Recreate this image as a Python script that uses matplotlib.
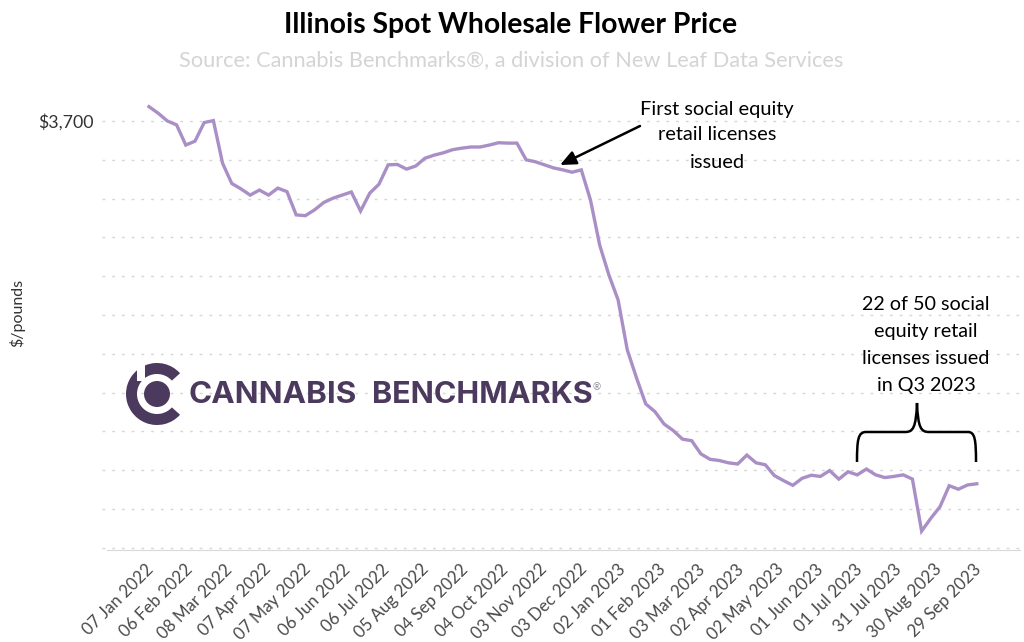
"""Illinois spot wholesale flower price, weekly, with logo and notes."""
import matplotlib
matplotlib.use('Agg')
import matplotlib.dates as mdates
import matplotlib.pyplot as plt
import pandas as pd
from matplotlib.patches import Circle, PathPatch, Rectangle, Wedge
from matplotlib.path import Path
from matplotlib.transforms import ScaledTranslation

FONT = 'Lato'
LINE = '#a98fc6'
LOGO = '#4c3a5e'
GRID = '#d6d6d6'

prices = [
    3737, 3720, 3700, 3690, 3638, 3648, 3696, 3701, 3591, 3539, 3525, 3509, 3522,
    3509, 3527, 3518, 3458, 3456, 3471, 3490, 3501, 3509, 3517, 3468, 3514, 3537,
    3587, 3588, 3576, 3584, 3604, 3612, 3618, 3626, 3630, 3633, 3633, 3638, 3644,
    3643, 3643, 3600, 3595, 3587, 3579, 3574, 3568, 3574, 3496, 3380, 3303, 3239,
    3110, 3038, 2971, 2951, 2919, 2902, 2880, 2876, 2842, 2828, 2825, 2819, 2816,
    2839, 2819, 2814, 2786, 2773, 2761, 2779, 2787, 2784, 2799, 2777, 2796, 2788,
    2803, 2788, 2781, 2784, 2788, 2777, 2643, 2676, 2706, 2760, 2751, 2762, 2765,
]
tick_labels = [
    '07 Jan 2022', '06 Feb 2022', '08 Mar 2022', '07 Apr 2022', '07 May 2022',
    '06 Jun 2022', '06 Jul 2022', '05 Aug 2022', '04 Sep 2022', '04 Oct 2022',
    '03 Nov 2022', '03 Dec 2022', '02 Jan 2023', '01 Feb 2023', '03 Mar 2023',
    '02 Apr 2023', '02 May 2023', '01 Jun 2023', '01 Jul 2023', '31 Jul 2023',
    '30 Aug 2023', '29 Sep 2023',
]
y_grid = list(range(2600, 3800, 100))

dates = pd.date_range('2022-01-07', periods=len(prices), freq='7D')
tick_dates = pd.to_datetime(tick_labels, format='%d %b %Y')

W, H = 1024, 642
fig = plt.figure(figsize=(W / 100, H / 100), dpi=100)
fig.patch.set_facecolor('white')

# plot box in pixels
L, R, T, B = 102, 1020, 95, 550
ax = fig.add_axes([L / W, (H - B) / H, (R - L) / W, (B - T) / H])

# $100 per 38.8 px, 1.314 px per day
ax.set_ylim(3700 - (B - 121) * 100 / 38.8, 3700 + (121 - T) * 100 / 38.8)
start = mdates.date2num(dates[0])
ax.set_xlim(start - (149 - L) / 1.314, start + (R - 149) / 1.314)

ax.set_yticks(y_grid)
ax.set_yticklabels(['$3,700' if v == 3700 else '' for v in y_grid],
                   fontsize=12.8, color='#333333', family=FONT)
ax.set_xticks(mdates.date2num(tick_dates))
ax.set_xticklabels(tick_labels, rotation=45, ha='right', va='top',
                   rotation_mode='anchor', fontsize=12.2, color='#4a4a4a', family=FONT)
ax.tick_params(axis='both', length=0)
ax.tick_params(axis='x', pad=8)
ax.tick_params(axis='y', pad=6)
# nudge the date labels left so they end by their dates
shift = ScaledTranslation(-3 / 72, 0, fig.dpi_scale_trans)
for lab in ax.get_xticklabels():
    lab.set_transform(lab.get_transform() + shift)
ax.grid(axis='y', color=GRID, lw=1, linestyle=(0, (2, 5)))
ax.set_axisbelow(True)
for s in ['top', 'left', 'right']:
    ax.spines[s].set_visible(False)
ax.spines['bottom'].set_color('#d9d9d9')
ax.spines['bottom'].set_bounds(start - (149 - 107) / 1.314, start + (R - 149) / 1.314)

ax.plot(mdates.date2num(dates), prices, color=LINE, lw=2.4, solid_joinstyle='miter', zorder=3)

# overlay in image pixels for the logo and notes
ov = fig.add_axes([0, 0, 1, 1])
ov.set_xlim(0, W)
ov.set_ylim(H, 0)
ov.axis('off')
ov.patch.set_alpha(0)


def txt(x, y, s, size, color='black', bold=False, ha='center', rotation=0, family=FONT):
    ov.text(x, y, s, fontsize=size, color=color, ha=ha, va='center', family=family,
            fontweight='bold' if bold else 'normal', rotation=rotation)


txt(511, 25, 'Illinois Spot Wholesale Flower Price', 20.4, bold=True)
txt(511, 60, 'Source: Cannabis Benchmarks®, a division of New Leaf Data Services',
    15.7, color='#d4d4d4')
txt(17, 313, '$/pounds', 11.5, color='#333333', rotation=90)

# logo
cx, cy = 157, 394
ov.add_patch(Wedge((cx, cy), 31, 42, 318, width=11, facecolor=LOGO, edgecolor='none'))
ov.add_patch(Circle((cx, cy), 13, facecolor=LOGO, edgecolor='none'))
ov.add_patch(Rectangle((137, 360), 7.5, 21, facecolor='white', edgecolor='none'))
txt(188, 395, 'CANNABIS', 22.6, color=LOGO, bold=True, ha='left', family='Inter')
txt(372, 395, 'BENCHMARKS', 22, color=LOGO, bold=True, ha='left', family='Inter')
txt(597, 388, '®', 7, color='#8d8199')

# notes
for y, s in zip([109, 135, 163], ['First social equity', 'retail licenses', 'issued']):
    txt(717, y, s, 14.4)
for y, s in zip([305, 332, 358, 385],
                ['22 of 50 social', 'equity retail', 'licenses issued', 'in Q3 2023']):
    txt(926, y, s, 14.2)

ov.annotate('', xy=(560, 165), xytext=(640, 126),
            arrowprops=dict(arrowstyle='-|>,head_length=0.95,head_width=0.42',
                            color='black', lw=1.8, shrinkA=0, shrinkB=0))

brace = [
    (857, 462), (857, 440), (858, 432), (866, 432),
    (905, 432), (913, 432), (916, 428), (917, 403),
    (918, 428), (921, 432), (929, 432),
    (968, 432), (975, 432), (976, 440), (976, 462),
]
codes = [Path.MOVETO, Path.CURVE4, Path.CURVE4, Path.CURVE4,
         Path.LINETO, Path.CURVE4, Path.CURVE4, Path.CURVE4,
         Path.CURVE4, Path.CURVE4, Path.CURVE4,
         Path.LINETO, Path.CURVE4, Path.CURVE4, Path.CURVE4]
ov.add_patch(PathPatch(Path(brace, codes), facecolor='none', edgecolor='black', lw=1.8))

plt.savefig('out.png', dpi=100, facecolor='white')
plt.close()
